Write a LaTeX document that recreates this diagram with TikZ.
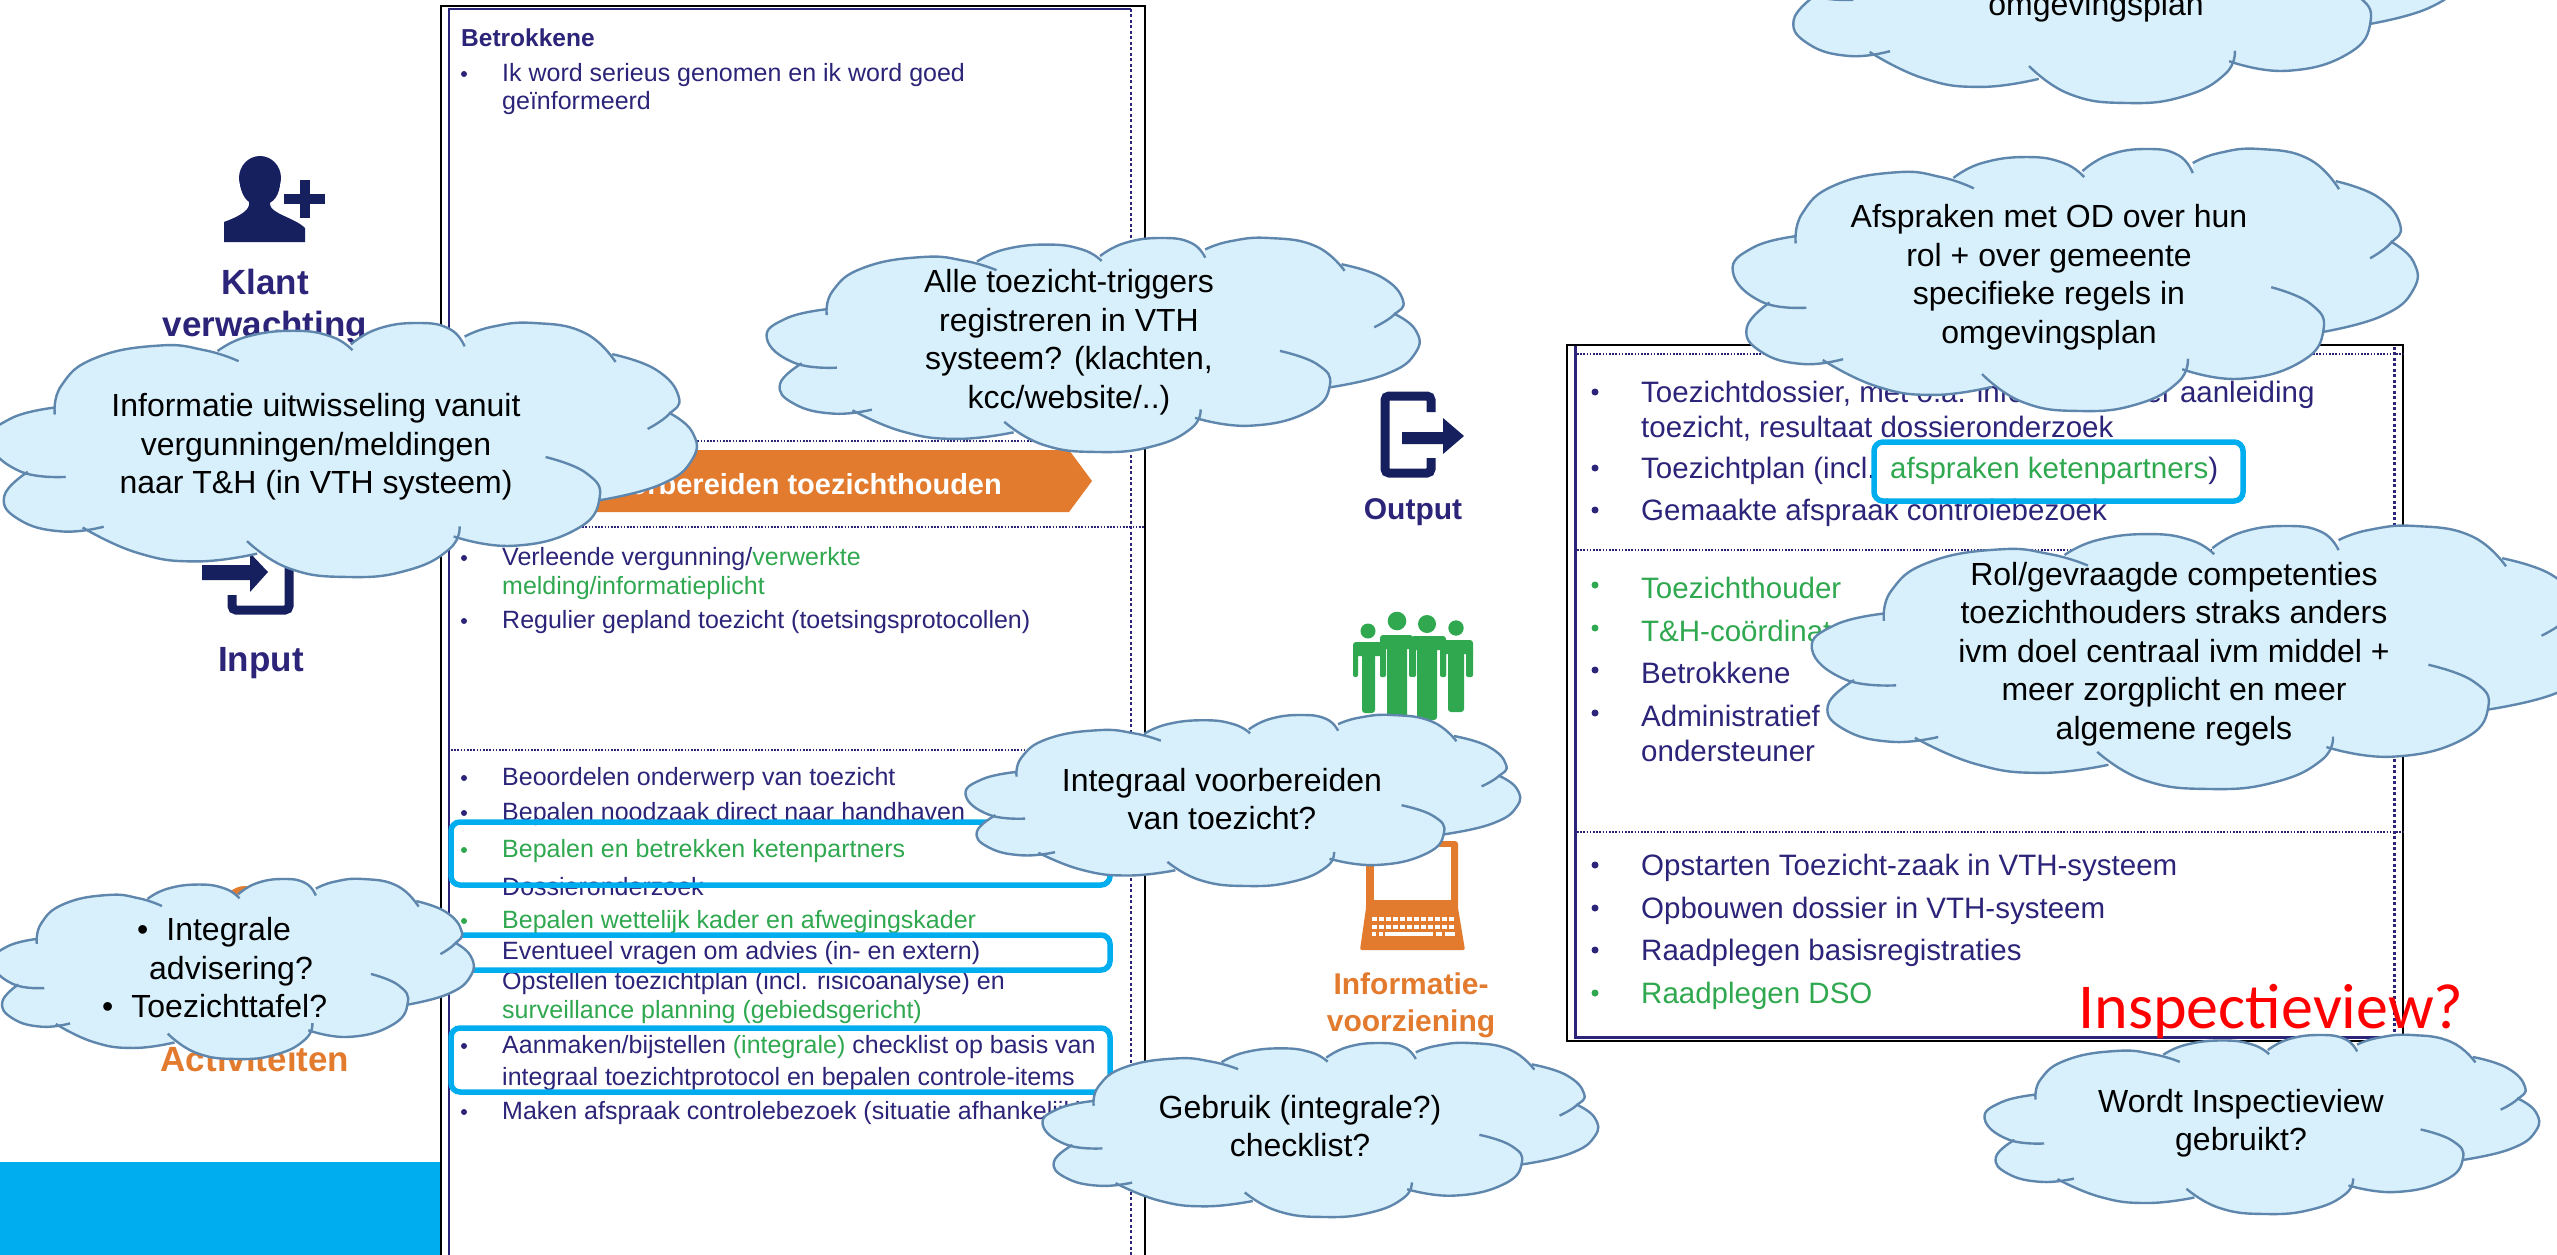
\documentclass[tikz,border=0pt]{standalone}
\usepackage{fontspec}
\setmainfont{Liberation Sans}
\newfontfamily\carlitofont{Carlito}
\definecolor{navy}{HTML}{2B2478}
\definecolor{iconnavy}{HTML}{17205F}
\definecolor{grn}{HTML}{2FA84F}
\definecolor{orng}{HTML}{E37B2F}
\definecolor{skyb}{HTML}{00AEEF}
\definecolor{cloudfill}{HTML}{D8F0FB}
\definecolor{cloudline}{HTML}{5F87AD}
\tikzset{
  lefttext/.style={anchor=west,inner sep=0pt,text=navy,yshift=-1.5pt,font=\fontsize{25}{30}\selectfont},
  righttext/.style={anchor=west,inner sep=0pt,text=navy,yshift=-2.5pt,font=\fontsize{29.5}{35}\selectfont},
  greentext/.style={text=grn},
  icontext/.style={inner sep=0pt,align=center,font=\bfseries\fontsize{35}{42}\selectfont},
  cloudtext/.style={inner sep=0pt,align=center,text=black,yshift=-2pt,font=\fontsize{32}{38.5}\selectfont},
  dotsep/.style={navy,line width=2.5pt,dash pattern=on 1.6pt off 1.6pt},
  hilite/.style={skyb,line width=5.5pt,rounded corners=9pt},
  cloudstroke/.style={cloudline,line width=2.4pt},
}
\def\lobeA{-- plot[smooth,tension=.8] coordinates {(632,605)(640,530)(680,460)(755,428)(810,440)(850,468)}}
\def\lobeB{-- plot[smooth,tension=.8] coordinates {(825,442)(860,405)(915,390)(960,405)(985,440)}}
\def\lobeC{-- plot[smooth,tension=.8] coordinates {(983,425)(1015,385)(1062,370)(1100,385)(1118,430)}}
\def\lobeD{-- plot[smooth,tension=.8] coordinates {(1118,405)(1150,380)(1200,370)(1260,395)(1297,470)}}
\def\lobeE{-- plot[smooth,tension=.8] coordinates {(1293,450)(1345,490)(1372,560)(1360,605)(1335,642)}}
\def\lobeF{-- plot[smooth,tension=.8] coordinates {(1360,600)(1388,650)(1388,720)(1350,785)(1278,825)}}
\def\lobeG{-- plot[smooth,tension=.8] coordinates {(1214,714)(1262,755)(1278,820)(1250,900)(1175,942)(1105,918)}}
\def\lobeH{-- plot[smooth,tension=.8] coordinates {(1112,892)(1100,950)(1050,1005)(980,1022)(910,1000)(860,930)}}
\def\lobeI{-- plot[smooth,tension=.8] coordinates {(872,962)(800,982)(730,960)(665,895)}}
\def\lobeJ{-- plot[smooth,tension=.8] coordinates {(690,893)(640,905)(590,875)(572,815)(600,752)}}
\def\lobeK{-- plot[smooth,tension=.8] coordinates {(645,765)(590,750)(555,675)(580,615)(632,587)}}
\newcommand{\thoughtcloud}[4]{%
  \pgfmathsetmacro{\cw}{(#3-#1)/836}%
  \pgfmathsetmacro{\ch}{(#4-#2)/652}%
  \begin{scope}[shift={(#1,#2)},xscale=\cw,yscale=\ch,shift={(-554,-370)}]
    \fill[cloudfill] (632,605) \lobeA \lobeB \lobeC \lobeD \lobeE \lobeF \lobeG \lobeH \lobeI \lobeJ \lobeK -- cycle;
    \draw[cloudstroke] (632,605) \lobeA;
    \draw[cloudstroke] (825,442) \lobeB;
    \draw[cloudstroke] (983,425) \lobeC;
    \draw[cloudstroke] (1118,405) \lobeD;
    \draw[cloudstroke] (1293,450) \lobeE;
    \draw[cloudstroke] (1360,600) \lobeF;
    \draw[cloudstroke] (1214,714) \lobeG;
    \draw[cloudstroke] (1112,892) \lobeH;
    \draw[cloudstroke] (872,962) \lobeI;
    \draw[cloudstroke] (690,893) \lobeJ;
    \draw[cloudstroke] (645,765) \lobeK;
  \end{scope}}
\newcommand{\lbul}[2]{\fill[#2] (464,#1) circle (3pt);}
\newcommand{\rbul}[2]{\fill[#2] (1595,#1) circle (3.5pt);}
\newcommand{\personfig}[8]{%
  \fill[grn,rounded corners=3pt] (#1,#2) rectangle (#7,#2+14);
  \fill[grn,rounded corners=2pt] (#1,#2+8) rectangle (#3,677);
  \fill[grn,rounded corners=2pt] (#6,#2+8) rectangle (#7,677);
  \fill[grn,rounded corners=3pt] (#4,#2+8) rectangle (#5,#8);
}
\begin{document}
\begin{tikzpicture}[x=1pt,y=-1pt]
\useasboundingbox (0,0) rectangle (2557,1255);
\clip (0,0) rectangle (2557,1255);
\fill[white] (0,0) rectangle (2557,1255);
% blue block
\fill[skyb] (0,1162) rectangle (440,1255);
% left panel
\draw[black,line width=2.5pt] (441,1260) -- (441,6) -- (1145,6) -- (1145,1260);
\draw[navy,line width=2.5pt] (449,1260) -- (449,9) -- (1131,9);
\draw[navy,line width=2.5pt,dash pattern=on 3pt off 2.5pt] (1131,9) -- (1131,1260);
\draw[dotsep] (451,441) -- (1131,441);
\draw[dotsep] (451,527) -- (1145,527);
\draw[dotsep] (451,750) -- (1131,750);
% orange arrow
\fill[orng] (455,450) -- (1069,450) -- (1092,481) -- (1069,512) -- (455,512) -- cycle;
\node[anchor=east,inner sep=0pt,text=white,font=\bfseries\fontsize{29}{34}\selectfont] (arrowlabel) at (1002,484) {Voorbereiden toezichthouden};
% left panel text
\node[lefttext,yshift=1.5pt,font=\bfseries\fontsize{24.5}{29}\selectfont] (t1) at (461,38) {Betrokkene};
\lbul{74}{navy}\node[lefttext] (t2) at (502,74) {Ik word serieus genomen en ik word goed};
\node[lefttext] (t3) at (502,102) {geïnformeerd};
\lbul{558}{navy}\node[lefttext] (t4) at (502,558) {Verleende vergunning/\textcolor{grn}{verwerkte}};
\node[lefttext,greentext] (t5) at (502,587) {melding/informatieplicht};
\lbul{621}{navy}\node[lefttext] (t6) at (502,621) {Regulier gepland toezicht (toetsingsprotocollen)};
\lbul{778}{navy}\node[lefttext] (t7) at (502,778) {Beoordelen onderwerp van toezicht};
\lbul{813}{navy}\node[lefttext] (t8) at (502,813) {Bepalen noodzaak direct naar handhaven};
\lbul{850}{grn}\node[lefttext,greentext] (t9) at (502,850) {Bepalen en betrekken ketenpartners};
\node[lefttext] (t10) at (502,885) {Dossieronderzoek};
\lbul{921}{grn}\node[lefttext,greentext] (t11) at (502,921) {Bepalen wettelijk kader en afwegingskader};
\lbul{952}{navy}\node[lefttext] (t12) at (502,952) {Eventueel vragen om advies (in- en extern)};
\lbul{982}{navy}\node[lefttext] (t13) at (502,982) {Opstellen toezichtplan (incl. risicoanalyse) en};
\node[lefttext,greentext] (t14) at (502,1011) {surveillance planning (gebiedsgericht)};
\lbul{1046}{navy}\node[lefttext] (t15) at (502,1046) {Aanmaken/bijstellen \textcolor{grn}{(integrale)} checklist op basis van};
\node[lefttext] (t16) at (502,1078) {integraal toezichtprotocol en bepalen controle-items};
\lbul{1112}{navy}\node[lefttext] (t17) at (502,1112) {Maken afspraak controlebezoek (situatie afhankelijk)};
% highlights left
\draw[hilite] (451,822) rectangle (1110,885);
\draw[hilite] (451,935) rectangle (1110,970);
\draw[hilite] (451,1028) rectangle (1110,1092);
% left icons
\fill[iconnavy] (260,178) ellipse (21pt and 22pt);
\fill[iconnavy] (240,185) .. controls (243,200) and (250,205) .. (260,205) .. controls (270,205) and (278,200) .. (280,185) -- cycle;
\fill[iconnavy] (224,242) -- (224,222) .. controls (235,218) and (248,212) .. (249,205) -- (249,195) -- (270,195) -- (270,205) .. controls (272,214) and (295,218) .. (305,228) -- (305,242) -- cycle;
\fill[iconnavy] (284,194) rectangle (325,204);
\fill[iconnavy] (300,180) rectangle (310,218);
\node[icontext,text=navy] (klant) at (265,307) {Klant\\verwachting};
\draw[iconnavy,line width=9pt,rounded corners=4pt] (289,530) -- (289,610) -- (232,610) -- (232,595);
\fill[iconnavy] (202,565) -- (250,565) -- (250,553) -- (268,572) -- (250,592) -- (250,580) -- (202,580) -- cycle;
\node[icontext,text=navy] (input) at (261,663) {Input};
\fill[orng] (245,908) circle (22pt);
\node[icontext,text=orng] (activiteiten) at (255,1059) {Activiteiten};
% right icons
\draw[iconnavy,line width=9pt,rounded corners=4pt] (1431,412) -- (1431,396) -- (1385,396) -- (1385,473) -- (1431,473) -- (1431,458);
\fill[iconnavy] (1402,432) -- (1443,432) -- (1443,418) -- (1464,436) -- (1443,454) -- (1443,444) -- (1402,444) -- cycle;
\node[icontext,text=navy,font=\bfseries\fontsize{30}{36}\selectfont] (output) at (1413,512) {Output};
\fill[grn] (1368,631) circle (7.5pt);
\fill[grn] (1397,621) circle (9.3pt);
\fill[grn] (1427,624) circle (9pt);
\fill[grn] (1456,628) circle (7.7pt);
\personfig{1353}{642}{1358}{1362}{1375}{1380}{1385}{713}
\personfig{1380}{635}{1386}{1387}{1407}{1409}{1413}{720}
\personfig{1411}{636}{1416}{1417}{1437}{1440}{1446}{720}
\personfig{1442}{640}{1446}{1448}{1464}{1466}{1473}{712}
\fill[orng,rounded corners=3pt] (1366,841) rectangle (1458,905);
\fill[white] (1374,847) rectangle (1451,901);
\fill[orng,rounded corners=2pt] (1366,900) -- (1458,900) -- (1458,908) -- (1465,950) -- (1360,950) -- (1366,908) -- cycle;
\draw[white,line width=4pt,dash pattern=on 5pt off 2pt] (1372,919) -- (1455,919);
\draw[white,line width=4pt,dash pattern=on 5pt off 2pt] (1372,927) -- (1455,927);
\draw[white,line width=4pt] (1372,934) -- (1376,934);
\draw[white,line width=4pt] (1379,934) -- (1383,934);
\draw[white,line width=4pt] (1385,934) -- (1433,934);
\draw[white,line width=4pt] (1436,934) -- (1442,934);
\draw[white,line width=4pt] (1445,934) -- (1455,934);
\node[icontext,text=orng,font=\bfseries\fontsize{30}{37}\selectfont] (infovoorz) at (1411,1005) {Informatie-\\voorziening};
% right panel
\draw[black,line width=2.5pt] (1567,345) rectangle (2403,1041);
\draw[navy,line width=3pt] (1575,346) -- (1575,1037) -- (2394,1037);
\draw[navy,line width=3pt,dash pattern=on 3pt off 2.5pt] (2394,1037) -- (2394,346);
\draw[dotsep] (1577,354) -- (2403,354);
\draw[dotsep] (1577,550) -- (2403,550);
\draw[dotsep] (1577,832) -- (2403,832);
\rbul{392}{navy}\node[righttext] (r1) at (1641,392) {Toezichtdossier, met o.a. informatie over aanleiding};
\node[righttext] (r2) at (1641,426) {toezicht, resultaat dossieronderzoek};
\rbul{468}{navy}\node[righttext] (r3) at (1641,468) {Toezichtplan (incl.};
\node[righttext] (r3b) at (1890,468) {\textcolor{grn}{afspraken ketenpartners})};
\rbul{510}{navy}\node[righttext] (r4) at (1641,510) {Gemaakte afspraak controlebezoek};
\rbul{585}{grn}\node[righttext,greentext] (r5) at (1641,585) {Toezichthouder};
\rbul{628}{grn}\node[righttext,greentext] (r6) at (1641,628) {T\&H-coördinator};
\rbul{670}{navy}\node[righttext] (r7) at (1641,670) {Betrokkene};
\rbul{713}{navy}\node[righttext] (r8) at (1641,713) {Administratief};
\node[righttext] (r9) at (1641,748) {ondersteuner};
\rbul{865}{navy}\node[righttext] (r10) at (1641,865) {Opstarten Toezicht-zaak in VTH-systeem};
\rbul{908}{navy}\node[righttext] (r11) at (1641,908) {Opbouwen dossier in VTH-systeem};
\rbul{950}{navy}\node[righttext] (r12) at (1641,950) {Raadplegen basisregistraties};
\rbul{993}{grn}\node[righttext,greentext] (r13) at (1641,993) {Raadplegen DSO};
\draw[hilite] (1874,442) rectangle (2243,501);
\node[inner sep=0pt,text=red,font=\carlitofont\fontsize{64}{70}\selectfont] (inspect) at (2271,1012) {Inspectieview?};
% clouds
\thoughtcloud{1779}{-159}{2462}{103}
\node[cloudtext] (ctop) at (2096,5) {omgevingsplan};
\thoughtcloud{1732}{149}{2415}{411}
\node[cloudtext] (cafs) at (2049,275) {Afspraken met OD over hun\\rol + over gemeente\\specifieke regels in\\omgevingsplan};
\thoughtcloud{766}{238}{1417}{452}
\node[cloudtext] (calle) at (1069,340) {Alle toezicht-triggers\\registreren in VTH\\systeem? (klachten,\\kcc/website/..)};
\thoughtcloud{-11}{323}{694}{577}
\node[cloudtext] (cinfo) at (316,445) {Informatie uitwisseling vanuit\\vergunningen/meldingen\\naar T\&H (in VTH systeem)};
\thoughtcloud{-8}{879}{472}{1059}
\node[cloudtext,align=left,anchor=west] (cint) at (102,966) {\hspace*{35pt}•\hspace{18pt}Integrale\\\hspace*{47pt}advisering?\\•\hspace{18pt}Toezichttafel?};
\thoughtcloud{965}{715}{1518}{886}
\node[cloudtext] (cintegr) at (1222,797) {Integraal voorbereiden\\van toezicht?};
\thoughtcloud{1042}{1043}{1596}{1217}
\node[cloudtext] (cgebr) at (1300,1124) {Gebruik (integrale?)\\checklist?};
\thoughtcloud{1811}{526}{2593}{789}
\node[cloudtext] (crol) at (2174,652) {Rol/gevraagde competenties\\toezichthouders straks anders\\ivm doel centraal ivm middel +\\meer zorgplicht en meer\\algemene regels};
\thoughtcloud{1984}{1035}{2537}{1214}
\node[cloudtext] (cwordt) at (2241,1121) {Wordt Inspectieview\\gebruikt?};
\end{tikzpicture}
\end{document}
